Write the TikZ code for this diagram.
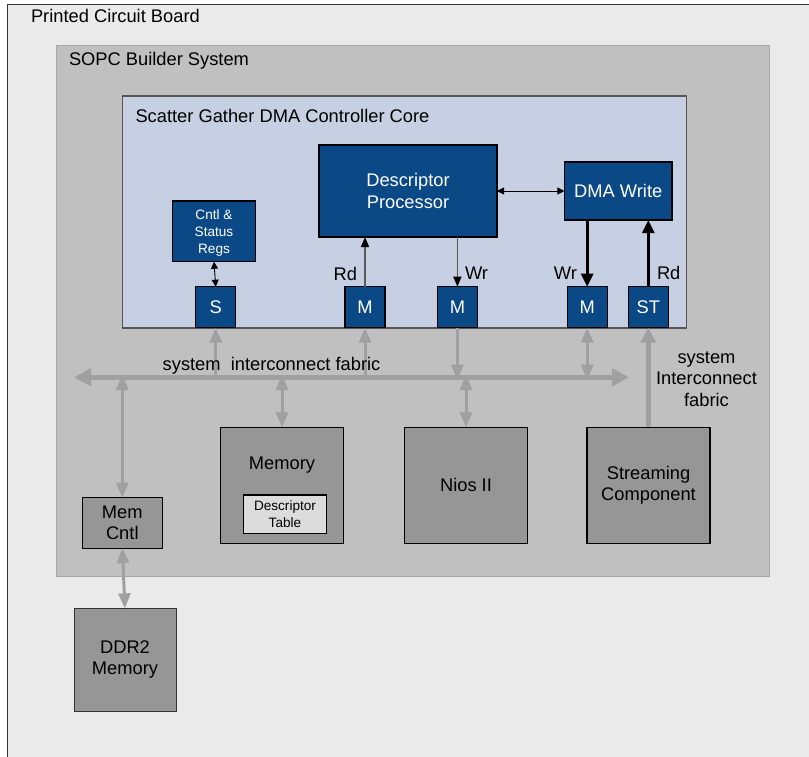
\documentclass[tikz,border=0pt]{standalone}
\usepackage{fontspec}
\setmainfont{Liberation Sans}
\usetikzlibrary{arrows.meta}

\definecolor{pcbfill}{HTML}{EAEAEA}
\definecolor{sopcfill}{HTML}{C0C0C0}
\definecolor{sopcline}{HTML}{A8A8A8}
\definecolor{corefill}{HTML}{C6D0E2}
\definecolor{coreline}{HTML}{555555}
\definecolor{dblue}{HTML}{0B4886}
\definecolor{gbfill}{HTML}{969696}
\definecolor{tabfill}{HTML}{DCDCDC}
\definecolor{busgray}{HTML}{A0A0A0}
\definecolor{wiregray}{HTML}{5A5A5A}

\tikzset{
  x=1pt, y=-1pt,
  gtip/.tip={Triangle[length=15pt,width=12pt]},
  ktip/.tip={Triangle[length=10pt,width=8pt,color=black]},
  bigtip/.tip={Triangle[length=13pt,width=12pt]},
  smalltip/.tip={Triangle[length=7pt,width=7pt]},
  bustip/.tip={Triangle[length=17pt,width=17pt]},
  every node/.style={inner sep=0pt, outer sep=0pt, font=\fontsize{18.3}{21.5}\selectfont},
  bluebox/.style={draw=black, line width=1.3pt, fill=dblue, text=white, align=center},
  graybox/.style={draw=black, line width=1.3pt, fill=gbfill, align=center},
  smalltext/.style={font=\fontsize{13.6}{16.7}\selectfont},
  busline/.style={draw=busgray, line width=5pt, {bustip}-{bustip}},
  gwire/.style={draw=busgray, line width=3pt},
  thinwire/.style={draw=wiregray, line width=1.3pt},
  thickwire/.style={draw=black, line width=2.6pt},
  pairwire/.style={draw=black, line width=0.9pt, {smalltip}-{smalltip}},
}

\begin{document}
\begin{tikzpicture}
\useasboundingbox (0,0) rectangle (809,757);

% enclosing regions
\fill[pcbfill] (7.5,4.5) rectangle (840,790);
\draw[black!80, line width=1.3pt] (7.5,790) -- (7.5,4.5) -- (840,4.5);
\draw[sopcline, fill=sopcfill, line width=1pt] (56.5,45.5) rectangle (769.5,576.5);
\draw[coreline, fill=corefill, line width=1.2pt] (122.5,96) rectangle (686.5,328);

\node[anchor=base west] (pcbT) at (31,23) {Printed Circuit Board};
\node[anchor=base west] (sopcT) at (69,65.5) {SOPC Builder System};
\node[anchor=base west] (coreT) at (135.5,122.5) {Scatter Gather DMA Controller Core};

% blocks of the controller core
\node[bluebox, minimum width=178pt, minimum height=92pt] (desc) at (408,191) {Descriptor\\Processor};
\node[bluebox, minimum width=107.5pt, minimum height=58pt] (dmaw) at (618.2,191) {DMA Write};
\node[bluebox, smalltext, text depth=0pt, minimum width=83.4pt, minimum height=60.7pt] (csr) at (214,231.4) {Cntl \&\\Status\\Regs};
\node[bluebox, minimum width=40pt, minimum height=41pt] (sS) at (215.7,307.2) {S};
\node[bluebox, minimum width=40pt, minimum height=41pt] (mrd) at (365,307.2) {M};
\node[bluebox, minimum width=40pt, minimum height=41pt] (mwr) at (457.4,307.2) {M};
\node[bluebox, minimum width=40pt, minimum height=41pt] (mdw) at (587.2,307.2) {M};
\node[bluebox, minimum width=40pt, minimum height=41pt] (st) at (648.3,307.2) {ST};

% components outside the core
\node[graybox, minimum width=122.6pt, minimum height=116pt] (mem) at (282,485.3) {};
\node[anchor=base] (memT) at (282,469.3) {Memory};
\node[draw=black, line width=1.3pt, fill=tabfill, smalltext, align=center, minimum width=83.4pt, minimum height=38.3pt] (dtab) at (285,514.2) {Descriptor\\Table};
\node[graybox, minimum width=123pt, minimum height=116pt] (nios) at (466,485.3) {Nios II};
\node[graybox, minimum width=123pt, minimum height=116pt] (strm) at (648.5,485.3) {Streaming\\Component};
\node[graybox, minimum width=80pt, minimum height=50.5pt] (mcnt) at (122.3,522.9) {Mem\\Cntl};
\node[draw=black!80, line width=1pt, fill=gbfill, align=center, minimum width=102pt, minimum height=102.7pt] (ddr) at (125,659.7) {DDR2\\Memory};

% system interconnect fabric
\coordinate (busL) at (74,377.3);
\coordinate (busR) at (629,377.3);
\draw[busline] (busL) -- (busR);

% connections to the fabric
\draw[gwire, -{gtip}] (sS.south |- busL) -- (sS.south);
\draw[gwire, -{gtip}] (mrd.south |- busL) -- (mrd.south);
\draw[gwire, -{gtip}] (mwr.south) -- ([yshift=-2.3pt]mwr.south |- busL);
\draw[gwire, {gtip}-{gtip}] (mdw.south) -- ([yshift=-2.3pt]mdw.south |- busL);
\draw[gwire, {gtip}-{gtip}] ([yshift=2.3pt]mcnt.north |- busL) -- (mcnt.north);
\draw[gwire, {gtip}-{gtip}] ([yshift=2.3pt]mem.north |- busL) -- (mem.north);
\draw[gwire, {gtip}-{gtip}] ([yshift=2.3pt]nios.north |- busL) -- (nios.north);
\draw[gwire, {gtip}-{gtip}] (mcnt.south) -- (ddr.north);
\draw[draw=busgray, line width=5pt, -{Triangle[length=15pt,width=15pt]}] (strm.north -| st.south) -- (st.south);

\node[anchor=base west] (busT) at (162.7,370) {system~ interconnect fabric};
\node[align=center] (sideT) at (706.5,379) {system\\Interconnect\\fabric};

% connections inside the core
\draw[pairwire] (csr.south) -- (sS.north);
\draw[pairwire] (desc.east) -- (dmaw.west);
\draw[thinwire, -{ktip}] (mrd.north) -- (mrd.north |- desc.south);
\draw[thinwire, -{ktip}] (mwr.north |- desc.south) -- (mwr.north);
\draw[thickwire, -{bigtip}] (mdw.north |- dmaw.south) -- (mdw.north);
\draw[thickwire, -{bigtip}] (st.north) -- (st.north |- dmaw.south);

\node[anchor=base east] (rd1) at (357,280) {Rd};
\node[anchor=base west] (wr1) at (465,279.5) {Wr};
\node[anchor=base east] (wr2) at (577,279.5) {Wr};
\node[anchor=base west] (rd2) at (657,279.5) {Rd};
\end{tikzpicture}
\end{document}
